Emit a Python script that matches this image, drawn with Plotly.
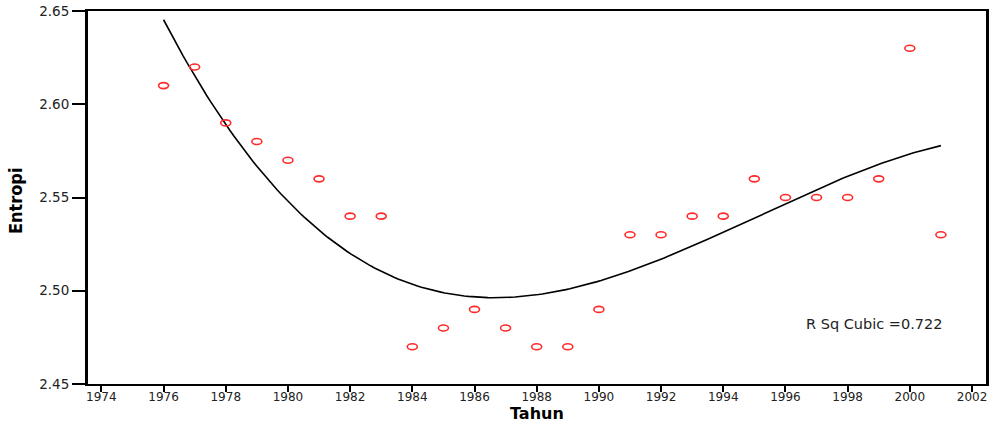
import numpy as np
import plotly.graph_objects as go

years = [1976, 1977, 1978, 1979, 1980, 1981, 1982, 1983, 1984, 1985, 1986, 1987, 1988,
         1989, 1990, 1991, 1992, 1993, 1994, 1995, 1996, 1997, 1998, 1999, 2000, 2001]
entropi = [2.61, 2.62, 2.59, 2.58, 2.57, 2.56, 2.54, 2.54, 2.47, 2.48, 2.49, 2.48, 2.47,
           2.47, 2.49, 2.53, 2.53, 2.54, 2.54, 2.56, 2.55, 2.55, 2.55, 2.56, 2.63, 2.53]
x_ticks = list(range(1974, 2003, 2))
y_ticks = [2.45, 2.50, 2.55, 2.60, 2.65]
r2_label = "R Sq Cubic =0.722"
x_title = "Tahun"
y_title = "Entropi"

# cubic fit through the observed points
xs = np.array(years, dtype=float)
ys = np.array(entropi)
coef = np.polyfit(xs - 1988, ys, 3)
xf = np.linspace(min(years), max(years), 200)
yf = np.polyval(coef, xf - 1988)

RED = "#ff2a2a"
FONT = "DejaVu Sans, Liberation Sans, Arial"

fig = go.Figure()
fig.add_trace(go.Scatter(x=xf, y=yf, mode="lines",
                         line=dict(color="black", width=1.6), hoverinfo="skip"))
# data points (invisible hover carrier; visible ellipses drawn as data-anchored shapes)
fig.add_trace(go.Scatter(x=years, y=entropi, mode="markers",
                         marker=dict(symbol="circle-open", size=9, color=RED, opacity=0)))
for yr, v in zip(years, entropi):
    fig.add_shape(type="circle", xref="x", yref="y",
                  xsizemode="pixel", ysizemode="pixel", xanchor=yr, yanchor=v,
                  x0=-5, x1=5, y0=-3, y1=3,
                  line=dict(color=RED, width=1.6), fillcolor="rgba(0,0,0,0)")

fig.add_annotation(x=1998.85, y=2.482, text=r2_label, showarrow=False,
                   xanchor="center", yanchor="middle",
                   font=dict(family=FONT, size=14.5, color="#222"))
fig.add_annotation(xref="paper", yref="paper", x=0.5, y=-0.08, text="<b>" + x_title + "</b>",
                   xanchor="center", yanchor="middle",
                   showarrow=False, font=dict(family=FONT, size=16, color="black"))
fig.add_annotation(xref="paper", yref="paper", x=-0.0813, y=0.493, text="<b>" + y_title + "</b>",
                   xanchor="center", yanchor="middle",
                   textangle=-90, showarrow=False,
                   font=dict(family="DejaVu Sans Condensed, DejaVu Sans", size=18, color="black"))

fig.update_layout(
    width=999, height=422,
    margin=dict(l=88, r=13, t=11, b=38),
    paper_bgcolor="white", plot_bgcolor="white",
    showlegend=False,
    font=dict(family=FONT, size=13, color="#222"),
    xaxis=dict(range=[1973.57, 2002.45], tickvals=x_ticks, ticks="outside",
               ticklen=6, tickwidth=2, tickcolor="black", showgrid=False,
               zeroline=False, showline=True, linewidth=2, linecolor="black",
               mirror=True, automargin=False, tickfont=dict(size=12),
               ticklabelstandoff=-5),
    yaxis=dict(range=[2.45, 2.65], tickvals=y_ticks, tickformat=".2f", ticks="outside",
               ticklen=13, tickwidth=2, tickcolor="black", showgrid=False,
               zeroline=False, showline=True, linewidth=3, linecolor="black",
               mirror=True, automargin=False, tickfont=dict(size=13.5)),
)

fig.write_html("out.html", config={"displayModeBar": False},
               post_script="document.body.style.margin='0';document.body.style.overflow='hidden';")
